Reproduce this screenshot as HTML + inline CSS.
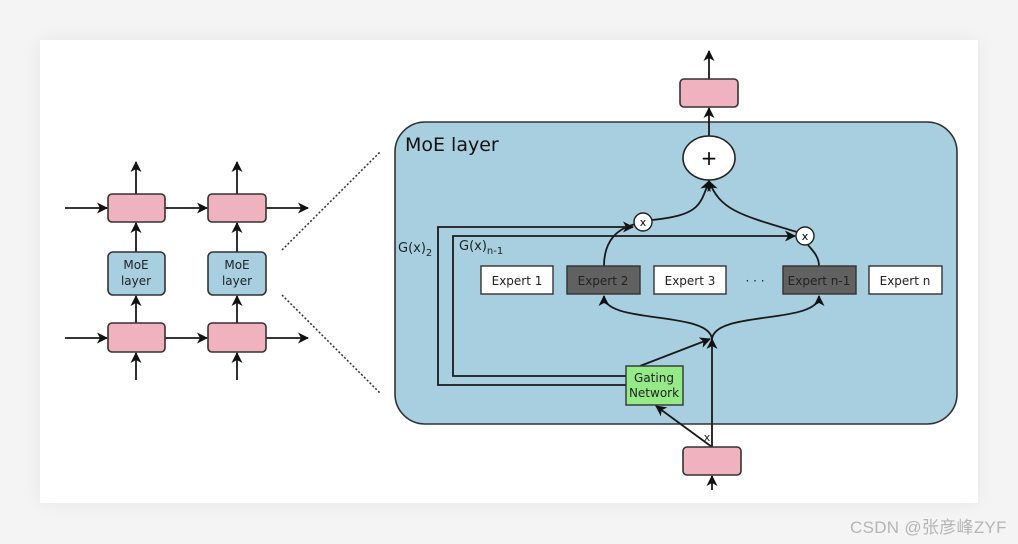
<!DOCTYPE html>
<html><head><meta charset="utf-8"><style>
body{margin:0;width:1018px;height:544px;background:#f4f4f4;overflow:hidden;font-family:"DejaVu Sans","Liberation Sans",sans-serif}
.card{position:absolute;left:40px;top:40px;width:938px;height:463px;background:#fff;box-shadow:0 0 18px rgba(0,0,0,0.06)}
.wm{position:absolute;left:850px;top:513px;font:17px "Liberation Sans","Noto Sans CJK SC",sans-serif;color:#b5b5b5;letter-spacing:0.3px}
</style></head><body>
<div class="card"></div>
<svg width="1018" height="544" style="position:absolute;left:0;top:0" font-family="DejaVu Sans, Liberation Sans, sans-serif">
<defs><marker id="a" markerWidth="11" markerHeight="11" refX="10" refY="5.5" orient="auto" markerUnits="userSpaceOnUse"><path d="M0,0 L11,5.5 L0,11 L3,5.5z" fill="#111"/></marker></defs>
<g stroke="#1a1a1a" stroke-width="1.8" fill="none" marker-end="url(#a)">
<path d="M65,208H107"/><path d="M165,208H207"/><path d="M266,208H308"/>
<path d="M65,338H107"/><path d="M165,338H207"/><path d="M266,338H308"/>
<path d="M136,194V162"/><path d="M237,194V162"/><path d="M136,252V223"/><path d="M237,252V223"/>
<path d="M136,323V296"/><path d="M237,323V296"/><path d="M136,380V353"/><path d="M237,380V353"/>
</g>
<g stroke="#333" stroke-width="1.6">
<rect x="108" y="194" width="57" height="28" rx="4" fill="#f1b2c0"/>
<rect x="208" y="194" width="58" height="28" rx="4" fill="#f1b2c0"/>
<rect x="108" y="323" width="57" height="29" rx="4" fill="#f1b2c0"/>
<rect x="208" y="323" width="58" height="29" rx="4" fill="#f1b2c0"/>
<rect x="108" y="252" width="57" height="43" rx="5" fill="#a8cfe0"/>
<rect x="208" y="252" width="58" height="43" rx="5" fill="#a8cfe0"/>
</g>
<g font-size="12" text-anchor="middle" fill="#222">
<text x="136" y="269">MoE</text><text x="136" y="285">layer</text>
<text x="237" y="269">MoE</text><text x="237" y="285">layer</text>
</g>
<path d="M282,250L380,152M282,295L380,393" stroke="#333" stroke-width="1.5" stroke-dasharray="2,2"/>
<rect x="395" y="122" width="562" height="302" rx="30" fill="#a8cfe0" stroke="#333" stroke-width="1.6"/>
<text x="405" y="151" font-size="19" fill="#111">MoE layer</text>
<g stroke="#1a1a1a" stroke-width="1.8" fill="none">
<g marker-end="url(#a)">
<path d="M709,79V51"/><path d="M709,136V108"/><path d="M712,490V476"/><path d="M712,447V339"/>
<path d="M712,447L656,406"/><path d="M640,366L710,339"/>
<path d="M712,340C712,310 604,325 604,296"/><path d="M712,340C712,310 819,325 819,296"/>
<path d="M626,385H438V227H633"/><path d="M626,376H453V236H795"/>
<path d="M652,220C700,215 700,205 709,181"/><path d="M797,232C740,215 720,210 709,181"/>
</g>
<path d="M604,266C604,240 618,228 636,224M819,266C819,256 812,250 808,245"/>
</g>
<rect x="680" y="79" width="58" height="28" rx="4" fill="#f1b2c0" stroke="#333" stroke-width="1.6"/>
<rect x="683" y="447" width="58" height="28" rx="4" fill="#f1b2c0" stroke="#333" stroke-width="1.6"/>
<ellipse cx="709" cy="158" rx="26" ry="22" fill="#fff" stroke="#222" stroke-width="1.6"/>
<text x="709" y="165" font-size="20" text-anchor="middle">+</text>
<circle cx="643" cy="222" r="9" fill="#fff" stroke="#222" stroke-width="1.4"/>
<circle cx="805" cy="236" r="9" fill="#fff" stroke="#222" stroke-width="1.4"/>
<text x="643" y="226" font-size="11" text-anchor="middle">x</text>
<text x="805" y="240" font-size="11" text-anchor="middle">x</text>
<g stroke="#333" stroke-width="1.4">
<rect x="481" y="266" width="72" height="28" fill="#fff"/>
<rect x="567" y="266" width="73" height="28" fill="#616161"/>
<rect x="654" y="266" width="72" height="28" fill="#fff"/>
<rect x="783" y="266" width="73" height="28" fill="#616161"/>
<rect x="869" y="266" width="73" height="28" fill="#fff"/>
<rect x="626" y="366" width="57" height="39" fill="#94ea86"/>
</g>
<g font-size="12" text-anchor="middle" fill="#222">
<text x="517" y="285">Expert 1</text><text x="603" y="285">Expert 2</text><text x="690" y="285">Expert 3</text>
<text x="755" y="285">· · ·</text><text x="819" y="285">Expert n-1</text><text x="905" y="285">Expert n</text>
<text x="654" y="382">Gating</text><text x="654" y="397">Network</text>
<text x="707" y="441" font-size="11">x</text>
</g>
<text x="398" y="252" font-size="13" fill="#222">G(x)<tspan font-size="10" dy="4">2</tspan></text>
<text x="459" y="250" font-size="13" fill="#222">G(x)<tspan font-size="10" dy="4">n-1</tspan></text>
</svg>
<div class="wm">CSDN @张彦峰ZYF</div>
</body></html>
